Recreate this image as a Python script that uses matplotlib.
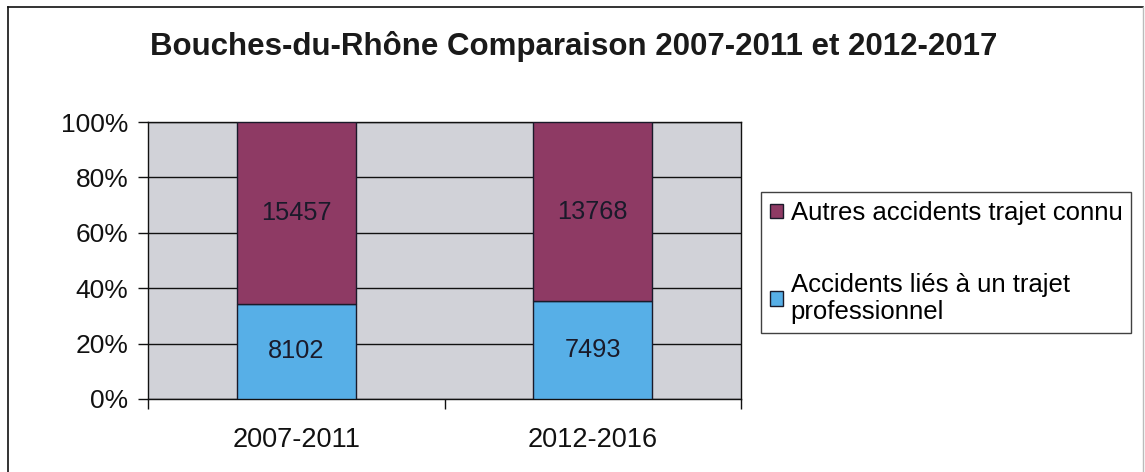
import matplotlib
matplotlib.use("Agg")
import matplotlib.pyplot as plt
from matplotlib.lines import Line2D
import numpy as np

categories = ["2007-2011", "2012-2016"]
prof = [8102, 7493]
autres = [15457, 13768]
series_labels = ["Accidents liés à un trajet\nprofessionnel", "Autres accidents trajet connu"]
yticks = [0, 20, 40, 60, 80, 100]
title = "Bouches-du-Rhône Comparaison 2007-2011 et 2012-2017"

plt.rcParams['font.family'] = ['Liberation Sans', 'DejaVu Sans']

W, H = 1145, 472
fig = plt.figure(figsize=(W / 100, H / 100), dpi=100)
fig.patch.set_facecolor("white")

def fx(px):
    return px / W

def fy(py):
    return 1 - py / H

ax = fig.add_axes([fx(148), fy(399), fx(741) - fx(148), fy(122) - fy(399)])
ax.set_facecolor("#d1d2d8")

prof_a = np.array(prof, dtype=float)
aut_a = np.array(autres, dtype=float)
tot = prof_a + aut_a
p_pct = prof_a / tot * 100
a_pct = aut_a / tot * 100
x = np.arange(len(categories))

blue = "#57afe7"
purple = "#8e3a64"
b1 = ax.bar(x, p_pct, width=0.4, color=blue, edgecolor="#1a1a2a", linewidth=1.0,
            label=series_labels[0], zorder=3)
b2 = ax.bar(x, a_pct, width=0.4, bottom=p_pct, color=purple, edgecolor="#1a1a2a",
            linewidth=1.0, label=series_labels[1], zorder=3)
ax.bar_label(b1, labels=[str(v) for v in prof], label_type="center", fontsize=18.3,
             color="#1a1a2a", zorder=4)
ax.bar_label(b2, labels=[str(v) for v in autres], label_type="center", fontsize=18.3,
             color="#1a1a2a", zorder=4)

ax.set_xlim(-0.5, len(categories) - 0.5)
ax.set_ylim(0, 100)
ax.set_yticks(yticks)
ax.set_yticklabels([f"{v}%" for v in yticks], fontsize=19, color="#111111")
ax.yaxis.grid(True, color="#111111", linewidth=1.0, zorder=1)
ax.set_axisbelow(True)

ax.set_xticks(np.arange(-0.5, len(categories), 1.0))
ax.set_xticklabels([])
ax.set_xticks(x, minor=True)
ax.set_xticklabels(categories, minor=True, fontsize=19.5, color="#111111")
ax.tick_params(axis="x", which="major", direction="out", length=7, width=1, color="#111111")
ax.tick_params(axis="x", which="minor", length=0, pad=20)
ax.tick_params(axis="y", direction="out", length=7, width=1, color="#111111", pad=7)

for s in ["left", "bottom", "right", "top"]:
    ax.spines[s].set_color("#111111")
    ax.spines[s].set_linewidth(1.0)

fig.text(fx(574), fy(47), title, ha="center", va="center", fontsize=22.5,
         fontweight="bold", color="#1a1a1a")

handles = [b2, b1]
labels = [series_labels[1], series_labels[0]]
leg = fig.legend(handles, labels, loc="upper left",
                 bbox_to_anchor=(fx(761), fy(192)), fontsize=18.5,
                 frameon=True, fancybox=False, edgecolor="#111111",
                 handlelength=0.5, handleheight=0.5, handletextpad=0.3,
                 labelspacing=1.85, borderpad=0.35, borderaxespad=0)
leg.get_frame().set_linewidth(1.0)

# outer chart border
fig.add_artist(Line2D([fx(8), fx(8)], [fy(7), 0], color="#111111", lw=1.2))
fig.add_artist(Line2D([fx(8), fx(1143)], [fy(7), fy(7)], color="#111111", lw=1.2))
fig.add_artist(Line2D([fx(1143), fx(1143)], [fy(7), 0], color="#bbbbbb", lw=1.0))

fig.savefig("out.png", dpi=100)
